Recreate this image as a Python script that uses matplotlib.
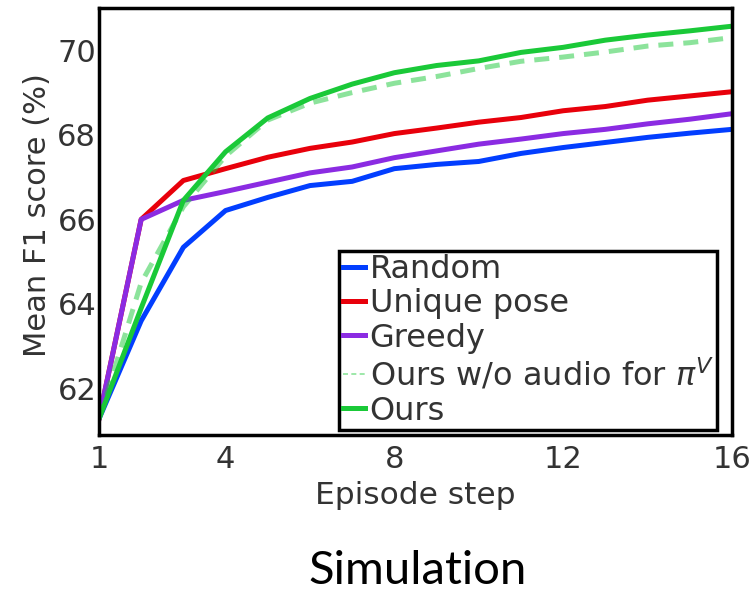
import matplotlib.pyplot as plt

plt.rcParams['font.family'] = ['DejaVu Sans']

# dados
passos = list(range(1, 17))
random_f1 = [61.28, 63.6, 65.34, 66.21, 66.52, 66.8, 66.9, 67.2, 67.3, 67.37, 67.56, 67.7, 67.82, 67.94, 68.04, 68.13]
unique_pose = [61.28, 66.0, 66.92, 67.2, 67.47, 67.68, 67.83, 68.03, 68.16, 68.3, 68.41, 68.57, 68.67, 68.82, 68.92, 69.02]
greedy = [61.28, 66.0, 66.45, 66.66, 66.88, 67.1, 67.24, 67.46, 67.62, 67.78, 67.9, 68.03, 68.13, 68.26, 68.37, 68.5]
ours_sem_audio = [61.28, 64.5, 66.3, 67.5, 68.35, 68.75, 69.0, 69.22, 69.38, 69.57, 69.74, 69.84, 69.96, 70.1, 70.18, 70.3]
ours = [61.28, 63.9, 66.45, 67.6, 68.4, 68.86, 69.2, 69.47, 69.64, 69.75, 69.95, 70.07, 70.24, 70.36, 70.46, 70.57]
xticks = [1, 4, 8, 12, 16]
yticks = [62, 64, 66, 68, 70]

cinza = '#333333'

fig = plt.figure(figsize=(7.52, 5.94), dpi=100)
ax = fig.add_axes([0.1316, 0.2677, 0.8418, 0.7188])

lw = 3.6
ax.plot(passos, random_f1, color='#023eff', linewidth=lw, label='Random')
ax.plot(passos, unique_pose, color='#e8000b', linewidth=lw, label='Unique pose')
ax.plot(passos, greedy, color='#8b2be2', linewidth=lw, label='Greedy')
ax.plot(passos, ours_sem_audio, color='#1ac938', alpha=0.5, linewidth=lw,
        linestyle=(0, (3, 2)), label=r'Ours w/o audio for $\pi^V$')
ax.plot(passos, ours, color='#1ac938', linewidth=lw, label='Ours')

ax.set_xlim(1, 16)
ax.set_ylim(60.9, 71.0)
ax.set_xticks(xticks)
ax.set_yticks(yticks)
ax.tick_params(length=0, labelsize=22, labelcolor=cinza)
ax.tick_params(axis='x', pad=7)
ax.tick_params(axis='y', pad=2)
for s in ax.spines.values():
    s.set_linewidth(2.5)
    s.set_color('black')

ax.set_xlabel('Episode step', fontsize=22.5, color=cinza, labelpad=5)
ax.set_ylabel('Mean F1 score (%)', fontsize=22, color=cinza)
ax.yaxis.set_label_coords(-0.074, 0.515)

leg = ax.legend(loc='lower right', bbox_to_anchor=(0.977, 0.012), borderaxespad=0,
                fontsize=23, handlelength=0.7, handletextpad=0.15,
                labelspacing=0.1, borderpad=0.1, fancybox=False, framealpha=1)
leg.get_frame().set_edgecolor('black')
leg.get_frame().set_linewidth(2.5)
for txt in leg.get_texts():
    txt.set_color(cinza)
leg.get_lines()[3].set_linewidth(1.2)

fig.text(0.556, 0.016, 'Simulation', fontsize=34, family='Lato',
         ha='center', va='baseline', color='black')

fig.savefig('out.png', dpi=100)
